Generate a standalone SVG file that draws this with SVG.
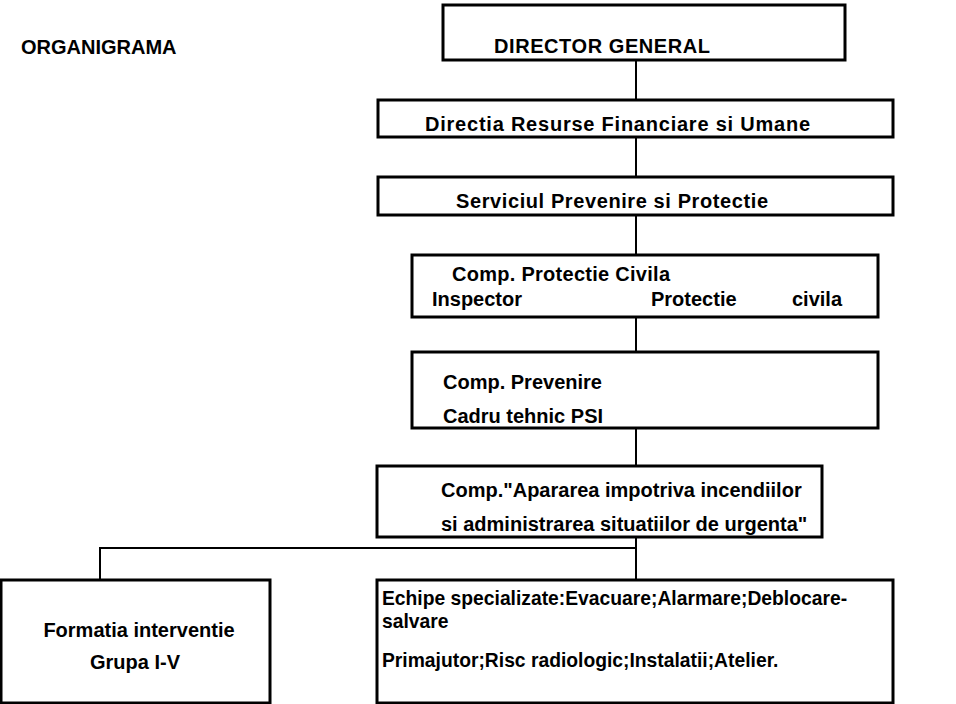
<svg xmlns="http://www.w3.org/2000/svg" width="956" height="704" viewBox="0 0 956 704">
<style>
.b{fill:#fff;stroke:#000;stroke-width:3}
.t{font-family:"Liberation Sans",Arial,sans-serif;font-weight:bold;font-size:20px;fill:#000}
.s{font-size:19.3px}
.c{stroke:#000;stroke-width:2;fill:none}
</style>
<rect width="956" height="704" fill="#fff"/>
<text class="t" x="21" y="54">ORGANIGRAMA</text>
<g id="connectors">
<line class="c" x1="636" y1="60" x2="636" y2="100"/>
<line class="c" x1="636" y1="137" x2="636" y2="177"/>
<line class="c" x1="636" y1="215" x2="636" y2="255"/>
<line class="c" x1="636" y1="317" x2="636" y2="352"/>
<line class="c" x1="636" y1="428" x2="636" y2="466"/>
<line class="c" x1="636" y1="537" x2="636" y2="580"/>
<polyline class="c" points="636,548 100,548 100,580"/>
</g>
<g id="director"><rect class="b" x="443" y="5" width="402" height="55"/><text class="t" x="494" y="53" textLength="216">DIRECTOR GENERAL</text></g>
<g id="directia"><rect class="b" x="378" y="100" width="515" height="37"/><text class="t" x="425" y="131" textLength="385">Directia Resurse Financiare si Umane</text></g>
<g id="serviciul"><rect class="b" x="378" y="177" width="515" height="38"/><text class="t" x="456" y="208" textLength="312">Serviciul Prevenire si Protectie</text></g>
<g id="protectie-civila"><rect class="b" x="412" y="255" width="466" height="62"/><text class="t" x="452" y="281" textLength="218">Comp. Protectie Civila</text><text class="t" y="306"><tspan x="432">Inspector</tspan><tspan x="651">Protectie</tspan><tspan x="792">civila</tspan></text></g>
<g id="prevenire"><rect class="b" x="412" y="352" width="466" height="76"/><text class="t" x="443" y="389">Comp. Prevenire</text><text class="t" x="443" y="423">Cadru tehnic PSI</text></g>
<g id="aparare"><rect class="b" x="377" y="466" width="445" height="71"/><text class="t" x="441" y="497">Comp."Apararea impotriva incendiilor</text><text class="t" x="441" y="531">si administrarea situatiilor de urgenta"</text></g>
<g id="formatia"><rect class="b" x="1" y="580" width="269" height="123"/><text class="t" x="139" y="637" text-anchor="middle">Formatia interventie</text><text class="t" x="135" y="669" text-anchor="middle">Grupa I-V</text></g>
<g id="echipe"><rect class="b" x="377" y="580" width="516" height="123"/><text class="t s" x="382" y="605">Echipe specializate:Evacuare;Alarmare;Deblocare-</text><text class="t s" x="382" y="628">salvare</text><text class="t s" x="382" y="667">Primajutor;Risc radiologic;Instalatii;Atelier.</text></g>
</svg>
